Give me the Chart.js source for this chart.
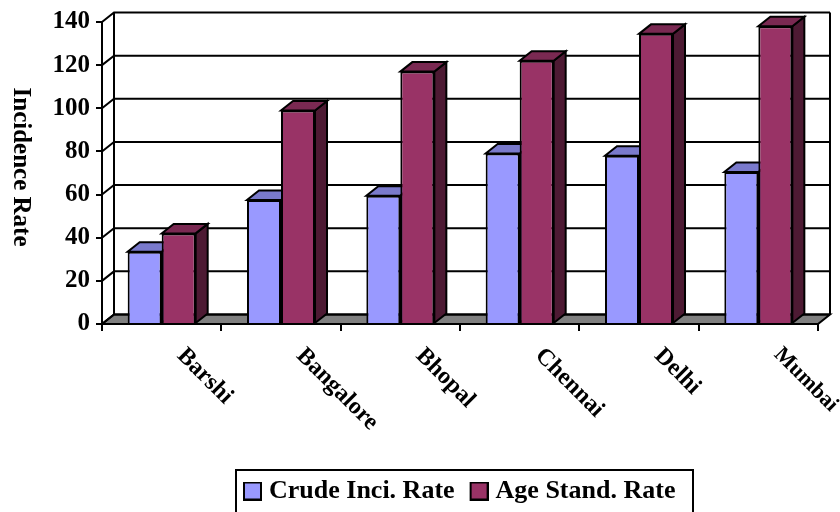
<!DOCTYPE html>
<html><head><meta charset="utf-8">
<style>html,body{margin:0;padding:0;background:#fff}#w{width:840px;height:512px;position:relative}</style>
<script src="https://cdn.jsdelivr.net/npm/chart.js@4"></script>
</head><body><div id="w"><canvas id="c" width="840" height="512"></canvas></div>
<script>
const categories = ['Barshi','Bangalore','Bhopal','Chennai','Delhi','Mumbai'];
const crudeRate = [33.5,57.5,59.5,79,78,70.5];
const ageRate = [42,99,117,122,134.5,138];
const seriesNames = ['Crude Inci. Rate','Age Stand. Rate'];
const yTicks = [0,20,40,60,80,100,120,140];
const yTitle = 'Incidence Rate';

const DX = 12, DY = 9.5;
const SERIF = '"Liberation Serif","Times New Roman",serif';
const LEGEND_BOX = {left:236, right:693, top:470, bottom:516};
const faces = [
  {front:'#9999FF', top:'#7A7ACC', side:'#4D4D80'},
  {front:'#993366', top:'#7A2952', side:'#4D1A33'}
];
function swatch(color){
  const cv = document.createElement('canvas');
  cv.width = 25; cv.height = 19;
  const g = cv.getContext('2d');
  g.fillStyle = color; g.fillRect(6,0,19,19);
  g.strokeStyle = '#000'; g.lineWidth = 2; g.strokeRect(7,1,17,17);
  return cv;
}
function poly(ctx, pts, fill){
  ctx.beginPath();
  pts.forEach((p,i)=> i ? ctx.lineTo(p[0],p[1]) : ctx.moveTo(p[0],p[1]));
  ctx.closePath();
  if (fill){ ctx.fillStyle = fill; ctx.fill(); }
  ctx.stroke();
}
const box3d = {
  id:'box3d',
  afterLayout(chart){
    const l = chart.legend;
    l.left = 228; l.right = 720; l.top = 463; l.bottom = 512;
  },
  beforeDatasetsDraw(chart){
    const {ctx, chartArea:a, scales:{y}} = chart;
    ctx.save();
    ctx.strokeStyle = '#000'; ctx.lineWidth = 2; ctx.lineJoin = 'miter';
    const y0 = y.getPixelForValue(0);
    poly(ctx, [[a.left,y0],[a.right,y0],[a.right+DX,y0-DY],[a.left+DX,y0-DY]], '#808080');
    yTicks.forEach(v=>{
      const p = y.getPixelForValue(v);
      ctx.beginPath();
      ctx.moveTo(a.left,p); ctx.lineTo(a.left+DX,p-DY); ctx.lineTo(a.right+DX,p-DY);
      ctx.stroke();
    });
    const pt = y.getPixelForValue(140);
    ctx.beginPath();
    ctx.moveTo(a.left+DX,pt-DY); ctx.lineTo(a.left+DX,y0-DY);
    ctx.moveTo(a.right+DX,pt-DY); ctx.lineTo(a.right+DX,y0-DY);
    ctx.stroke();
    chart.data.datasets.forEach((ds,i)=>{
      chart.getDatasetMeta(i).data.forEach(b=>{
        const L=b.x-b.width/2, R=b.x+b.width/2, T=b.y, B=b.base;
        poly(ctx, [[R,T],[R,B],[R+DX,B-DY],[R+DX,T-DY]], faces[i].side);
        poly(ctx, [[L,T],[R,T],[R+DX,T-DY],[L+DX,T-DY]], faces[i].top);
      });
    });
    ctx.restore();
  },
  afterDraw(chart){
    const {ctx} = chart, b = LEGEND_BOX;
    ctx.save();
    ctx.strokeStyle = '#000'; ctx.lineWidth = 2;
    ctx.strokeRect(b.left, b.top, b.right-b.left, b.bottom-b.top);
    ctx.fillStyle = '#000';
    ctx.font = 'bold 25px '+SERIF;
    ctx.textAlign = 'center'; ctx.textBaseline = 'middle';
    ctx.translate(20, 167); ctx.rotate(Math.PI/2);
    ctx.fillText(yTitle, 0, 0);
    ctx.restore();
  }
};
new Chart(document.getElementById('c'), {
  type:'bar',
  data:{labels:categories, datasets:[
    {label:seriesNames[0], data:crudeRate, backgroundColor:faces[0].front, borderColor:'#000', borderWidth:2},
    {label:seriesNames[1], data:ageRate, backgroundColor:faces[1].front, borderColor:'#000', borderWidth:2}
  ]},
  plugins:[box3d],
  options:{
    responsive:false, animation:false,
    layout:{padding:{left:0,top:22,right:22,bottom:0}},
    datasets:{bar:{categoryPercentage:0.57, barPercentage:1}},
    plugins:{
      title:{display:false}, tooltip:{enabled:false},
      legend:{position:'bottom', align:'start', labels:{
        color:'#000', font:{family:SERIF, size:26, weight:'bold'},
        usePointStyle:true, boxWidth:13, boxHeight:19, padding:15,
        generateLabels(chart){
          return Chart.defaults.plugins.legend.labels.generateLabels(chart).map((it,i)=>{
            it.pointStyle = swatch(faces[i].front); return it;
          });
        }
      }}
    },
    scales:{
      x:{
        border:{color:'#000',width:2},
        grid:{drawOnChartArea:false, drawTicks:true, tickLength:7, color:'#000', lineWidth:2},
        ticks:{color:'#000',
          font:c=>({family:SERIF,size:c.index===categories.length-1?22:24,weight:'bold'}),
          minRotation:-45, maxRotation:-45, autoSkip:false, padding:11, labelOffset:19},
        afterFit(s){ s.height = 137; s._getXAxisLabelAlignment = ()=>'left'; }
      },
      y:{
        min:0, max:140,
        border:{color:'#000',width:2},
        grid:{drawOnChartArea:false, drawTicks:true, tickLength:6, color:'#000', lineWidth:2},
        ticks:{color:'#000', stepSize:20, padding:6, font:{family:SERIF,size:25,weight:'bold'}},
        afterFit(s){ s.width = 102; }
      }
    }
  }
});
</script></body></html>
